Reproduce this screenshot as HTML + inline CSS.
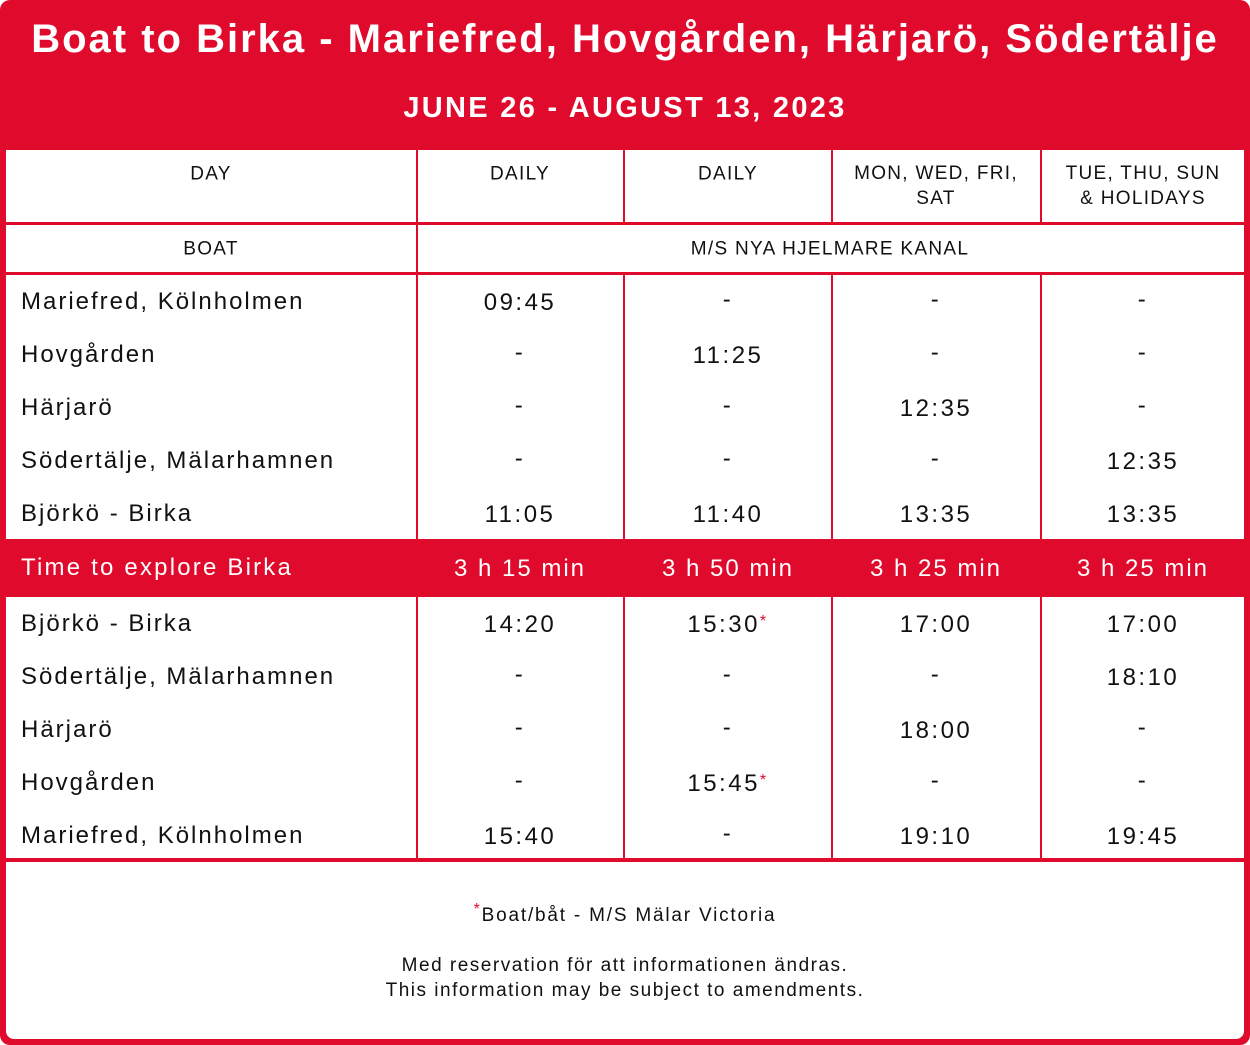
<!DOCTYPE html>
<html><head><meta charset="utf-8">
<style>
body{margin:0;width:1250px;height:1045px;background:#fff;font-family:"Liberation Sans",sans-serif;overflow:hidden}
#frame{position:absolute;left:0;top:0;width:1250px;height:1045px;background:#df0a2c;border-radius:10px}
.t{position:absolute;white-space:nowrap}
.title{left:0;width:1250px;text-align:center;color:#fff;font-weight:bold}
.cell{position:absolute;background:#fff}
.c{position:absolute;transform:translate(-50%,-50%);font-size:24px;color:#111;letter-spacing:2.5px;white-space:nowrap;text-align:center}
.l{position:absolute;transform:translateY(-50%);font-size:24px;color:#111;letter-spacing:2px;white-space:nowrap}
.h{font-size:19px;letter-spacing:1.3px;line-height:25px}
.star{color:#df0a2c;font-size:16px;vertical-align:super}
</style></head><body>
<div id="frame"></div>
<div class="t title" style="top:17px;font-size:40px;letter-spacing:2px">Boat to Birka - Mariefred, Hovgården, Härjarö, Södertälje</div>
<div class="t title" style="top:92px;font-size:29px;letter-spacing:2.3px">JUNE 26 - AUGUST 13, 2023</div>
<div id="tbl"></div>
<div class="cell" style="left:6px;top:862px;width:1238px;height:177px;border-radius:0 0 8px 8px">
 <div class="c" style="left:619px;top:52px;font-size:19px;letter-spacing:1.8px"><span class="star">*</span>Boat/båt - M/S Mälar Victoria</div>
 <div class="c" style="left:619px;top:116px;font-size:19px;line-height:25px;letter-spacing:1.5px">Med reservation för att informationen ändras.<br>This information may be subject to amendments.</div>
</div>
<script>
const colX=[6,418,625,833,1042,1244];
const colC=[211,520,728,936,1143];
const stopsOut=["Mariefred, Kölnholmen","Hovgården","Härjarö","Södertälje, Mälarhamnen","Björkö - Birka"];
const stopsBack=["Björkö - Birka","Södertälje, Mälarhamnen","Härjarö","Hovgården","Mariefred, Kölnholmen"];
const outTimes=[["09:45","-","-","-"],["-","11:25","-","-"],["-","-","12:35","-"],["-","-","-","12:35"],["11:05","11:40","13:35","13:35"]];
const backTimes=[["14:20","15:30*","17:00","17:00"],["-","-","-","18:10"],["-","-","18:00","-"],["-","15:45*","-","-"],["15:40","-","19:10","19:45"]];
const explore=["3 h 15 min","3 h 50 min","3 h 25 min","3 h 25 min"];
const headers=["DAY","DAILY","DAILY","MON, WED, FRI,<br>SAT","TUE, THU, SUN<br>&amp; HOLIDAYS"];
const tbl=document.getElementById('tbl');
function box(x,y,w,h,name){const d=document.createElement('div');d.className='cell';d.style.cssText=`left:${x}px;top:${y}px;width:${w}px;height:${h}px`;


tbl.appendChild(d);return d;}
function txt(cls,x,y,html,name,extra){const d=document.createElement('div');d.className=cls;d.style.left=x+'px';d.style.top=y+'px';if(extra)d.style.cssText+=extra;d.innerHTML=html;


tbl.appendChild(d);return d;}
function fmt(s){return s.endsWith('*')?s.slice(0,-1)+'<span class="star" style="vertical-align:6px">*</span>':s;}
for(let i=0;i<5;i++){box(colX[i],150,colX[i+1]-colX[i]-(i<4?2:0),72,'header-cell');
 txt('c h',colC[i],i>=3?186:174,headers[i],'column-header');}
box(6,225,410,47,'boat-label-cell');box(418,225,826,47,'boat-name-cell');
txt('c h',211,249,'BOAT','boat-label');txt('c h',830,249,'M/S NYA HJELMARE KANAL','boat-name');
function block(top,h,stops,times,prefix){
 for(let i=0;i<5;i++){box(colX[i],top,colX[i+1]-colX[i]-(i<4?2:0),h,prefix+'-column');}
 for(let r=0;r<5;r++){const y=top+27+r*53;
  txt('l',21,y,stops[r],prefix+'-stop-label');
  for(let c=0;c<4;c++){txt('c',colC[c+1],y+(times[r][c]==='-'?-2:1),fmt(times[r][c]),prefix+'-time');}
 }
}
block(275,264,stopsOut,outTimes,'outbound');
txt('l',21,568,'Time to explore Birka','explore-label','color:#fff;letter-spacing:2.2px');
for(let c=0;c<4;c++)txt('c',colC[c+1],569,explore[c],'explore-time','color:#fff;letter-spacing:2px');
block(597,261,stopsBack,backTimes,'return');
</script>
</body></html>
